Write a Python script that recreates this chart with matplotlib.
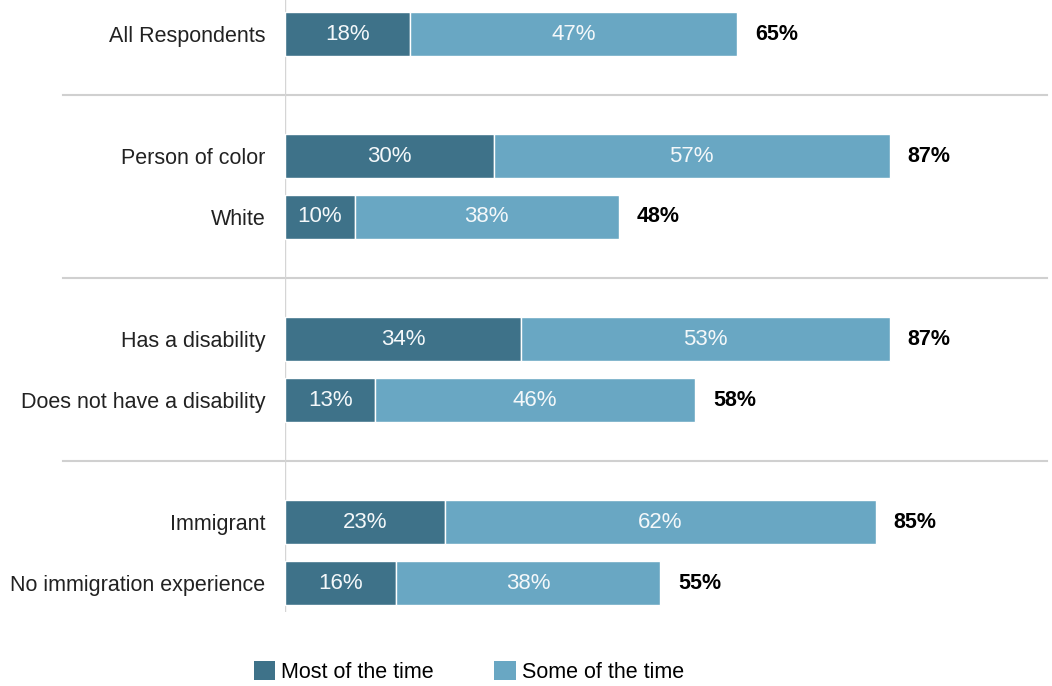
import matplotlib.pyplot as plt
from matplotlib.patches import Patch

categories = ["All Respondents", "Person of color", "White", "Has a disability",
              "Does not have a disability", "Immigrant", "No immigration experience"]
most = [18, 30, 10, 34, 13, 23, 16]
some = [47, 57, 38, 53, 46, 62, 38]
totals = ["65%", "87%", "48%", "87%", "58%", "85%", "55%"]
positions = [0, 2, 3, 5, 6, 8, 9]
separators = [1, 4, 7]

dark = "#3e7289"
light = "#69a7c3"

plt.rcParams['font.family'] = ['Liberation Sans', 'DejaVu Sans']

W, H = 1052, 686
fig = plt.figure(figsize=(W / 100, H / 100), dpi=100)
left_px, right_px, top_px, bot_px = 285, 1052, 0, 612
ax = fig.add_axes([left_px / W, 1 - bot_px / H, (right_px - left_px) / W, (bot_px - top_px) / H])

ppx = 6.95  # pixels per percent
unit = 61.0
ax.set_xlim(0, (right_px - left_px) / ppx)
ax.set_ylim((bot_px - 34) / unit, -34 / unit)

bh = 0.72
ax.barh(positions, most, height=bh, color=dark, edgecolor="white", linewidth=1)
ax.barh(positions, some, left=most, height=bh, color=light, edgecolor="white", linewidth=1)

for p, m, s, t in zip(positions, most, some, totals):
    ax.text(m / 2, p, f"{m}%", ha="center", va="center", color="#f4f8fa", fontsize=16)
    ax.text(m + s / 2, p, f"{s}%", ha="center", va="center", color="#f4f8fa", fontsize=16)
    ax.text(m + s + 18 / ppx, p, t, ha="left", va="center", color="black",
            fontsize=15.5, fontweight="bold")

for sy in separators:
    ax.plot([(63 - left_px) / ppx, (1047 - left_px) / ppx], [sy, sy],
            color="#d0d0d0", lw=1.5, clip_on=False, zorder=0)

ax.axvline(0, color="#d5d5d5", lw=1, zorder=0)

ax.set_yticks(positions)
ax.set_yticklabels(categories, fontsize=15.5, color="#222222")
ax.tick_params(axis="y", length=0, pad=14)
ax.set_xticks([])
for sp in ax.spines.values():
    sp.set_visible(False)

handles = [Patch(facecolor=dark, label="Most of the time"),
           Patch(facecolor=light, label="Some of the time")]
fig.legend(handles=handles, loc="center", bbox_to_anchor=(469 / W, 1 - 672 / H),
           ncol=2, frameon=False, fontsize=15.5, handlelength=1.0, handleheight=1.0,
           handletextpad=0.3, columnspacing=2.8, borderpad=0)

fig.savefig("out.png", dpi=100)
